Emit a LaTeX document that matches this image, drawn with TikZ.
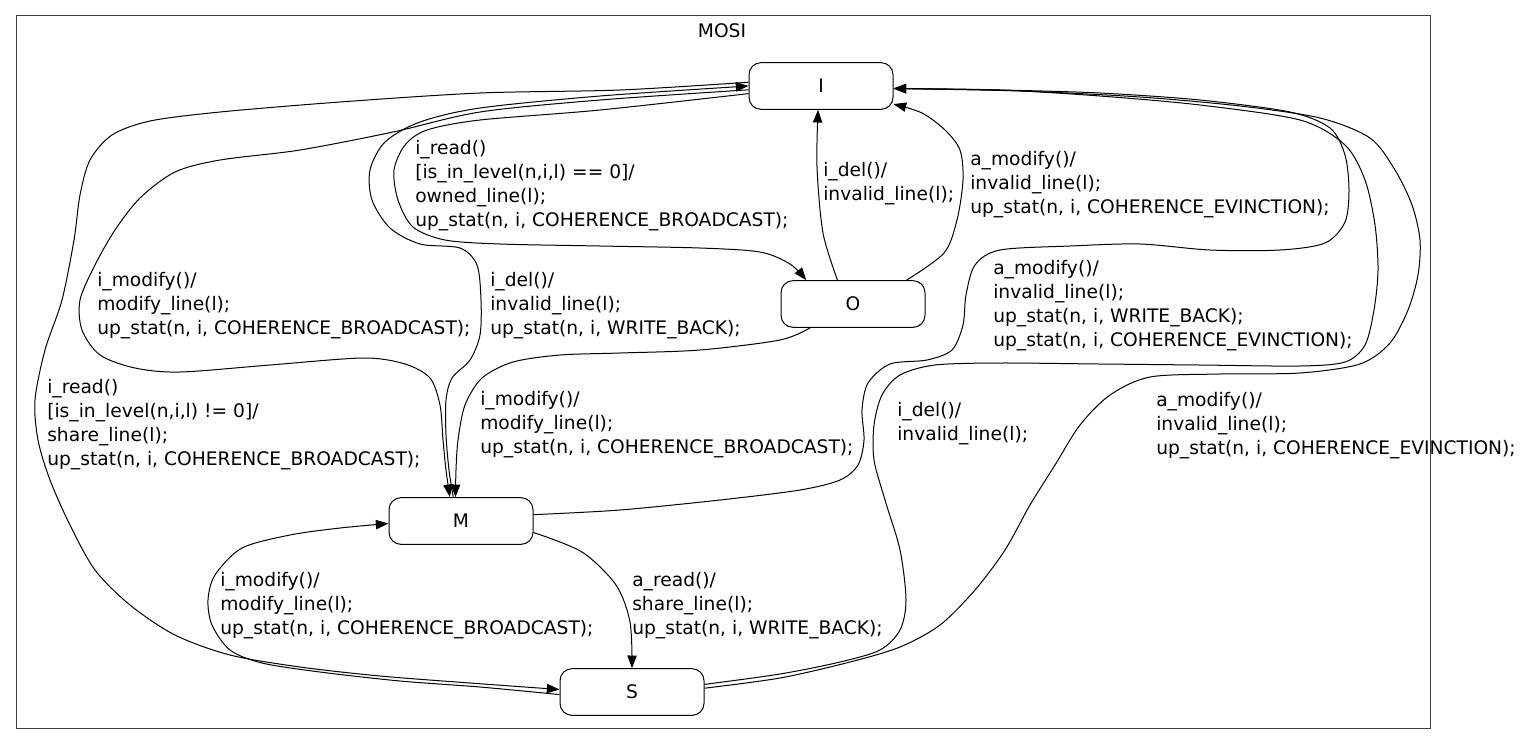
\documentclass[tikz,border=0pt]{standalone}
\usepackage{fontspec}
\setmainfont{DejaVu Sans}
\usetikzlibrary{arrows.meta}
\begin{document}
\begin{tikzpicture}[x=0.75pt,y=-0.75pt,
  state/.style={draw, line width=0.75pt, rounded corners=9pt, minimum width=108pt, minimum height=35pt, inner sep=0pt, font=\fontsize{14}{18}\selectfont},
  lbl/.style={anchor=north west, inner sep=0pt, align=left, font=\fontsize{14}{18}\selectfont},
  conn/.style={draw, line width=0.75pt, -{Triangle[length=9.5pt,width=7pt]}},
  cluster/.style={draw=black!75, line width=0.75pt},
  sm/.style={smooth, tension=0.5}]
\fill[white] (0,0) rectangle (1524,744);
\useasboundingbox (0,0) rectangle (1524,744);
\draw[cluster] (16,15) rectangle (1430,728);
\node[font=\fontsize{14}{18}\selectfont, inner sep=0pt] (title) at (722,31) {MOSI};

\node[state] (I) at (821,86) {I};
\node[state] (O) at (853,304) {O};
\node[state] (M) at (461,521) {M};
\node[state] (S) at (632,692) {S};

% I -> S  (i_read != 0)
\draw[conn] plot[sm] coordinates {(I.177) (620,90) (480,93) (340,102) (220,112) (150,121) (112,135) (90,160) (80,195) (74,240) (62,300) (45,350) (35,400) (38,440) (50,480) (70,525) (95,570) (130,605) (175,635) (230,655) (300,667) (380,676) (470,683) (S.178)};
% I -> M  (i_modify)
\draw[conn] plot[sm] coordinates {(I.183) (600,100) (480,112) (393,132) (300,150) (220,160) (175,172) (140,198) (115,230) (95,265) (80,300) (82,330) (100,355) (135,368) (180,372) (270,365) (363,358) (405,364) (430,378) (440,405) (443,440) (446,470) (M.115)};
% I -> O  (i_read == 0)
\draw[conn] plot[sm] coordinates {(I.186) (600,110) (480,120) (427,130) (405,145) (394,170) (398,200) (413,227) (445,240) (500,244) (600,246) (700,248) (760,252) (790,264) (O.153)};
% M -> I  (i_del)
\draw[conn] plot[sm] coordinates {(M.108) (449,470) (446,435) (446,400) (452,378) (470,360) (480,335) (481,300) (477,265) (460,248) (420,244) (390,228) (372,200) (370,170) (385,142) (420,122) (480,108) (600,96) (I.180)};
% O -> M  (i_modify)
\draw[conn] plot[sm] coordinates {(O.209) (780,340) (700,350) (620,353) (560,355) (513,362) (482,378) (465,405) (458,440) (456,470) (M.103)};
% O -> I  (i_del)
\draw[conn] plot[sm] coordinates {(O.123) (823,233) (817,167) (I.263)};
% O -> I  (a_modify)
\draw[conn] plot[sm] coordinates {(O.24) (944,253) (957,220) (963,180) (960,150) (945,130) (922,113) (I.346)};
% S -> M  (i_modify)
\draw[conn] plot[sm] coordinates {(S.182) (480,687) (400,681) (320,672) (262,663) (230,650) (212,625) (208,600) (215,575) (242,548) (290,535) (340,528) (M.182)};
% M -> S  (a_read)
\draw[conn] plot[sm] coordinates {(M.351) (582,552) (616,585) (630,622) (S.north)};
% M -> I  (a_modify, write back)
\draw[conn] plot[sm] coordinates {(M.5) (620,510) (720,500) (800,490) (840,480) (858,465) (864,440) (862,410) (868,383) (890,364) (927,360) (952,350) (963,325) (966,295) (975,265) (1000,250) (1070,246) (1140,244) (1210,250) (1280,250) (1325,243) (1345,222) (1349,190) (1345,155) (1330,128) (1290,112) (1200,100) (1100,93) (1000,90) (I.358)};
% S -> I  (i_del)
\draw[conn] plot[sm] coordinates {(S.6) (780,674) (840,662) (880,650) (900,630) (906,600) (900,550) (885,500) (874,460) (874,425) (882,395) (900,375) (935,365) (1000,363) (1100,364) (1200,365) (1300,366) (1345,362) (1365,345) (1374,310) (1378,270) (1375,225) (1365,180) (1345,145) (1300,120) (1200,105) (1100,96) (1000,90) (I.358)};
% S -> I  (a_modify)
\draw[conn] plot[sm] coordinates {(S.3) (780,678) (850,662) (900,647) (940,625) (975,590) (1005,550) (1030,505) (1055,465) (1080,425) (1110,395) (1150,377) (1220,374) (1300,373) (1360,364) (1390,343) (1408,310) (1418,275) (1420,240) (1412,205) (1395,170) (1370,138) (1320,118) (1240,106) (1140,97) (1020,91) (I.358)};

% labels
\node[lbl] (l1) at (415,140) {i\_read()\\ {[is\_in\_level(n,i,l) == 0]/}\\owned\_line(l);\\up\_stat(n, i, COHERENCE\_BROADCAST);};
\node[lbl] (l2) at (823,162) {i\_del()/\\invalid\_line(l);};
\node[lbl] (l3) at (970,151) {a\_modify()/\\invalid\_line(l);\\up\_stat(n, i, COHERENCE\_EVINCTION);};
\node[lbl] (l4) at (97,272) {i\_modify()/\\modify\_line(l);\\up\_stat(n, i, COHERENCE\_BROADCAST);};
\node[lbl] (l5) at (490,272) {i\_del()/\\invalid\_line(l);\\up\_stat(n, i, WRITE\_BACK);};
\node[lbl] (l6) at (993,260) {a\_modify()/\\invalid\_line(l);\\up\_stat(n, i, WRITE\_BACK);\\up\_stat(n, i, COHERENCE\_EVINCTION);};
\node[lbl] (l7) at (47,379) {i\_read()\\ {[is\_in\_level(n,i,l) != 0]/}\\share\_line(l);\\up\_stat(n, i, COHERENCE\_BROADCAST);};
\node[lbl] (l8) at (480,391) {i\_modify()/\\modify\_line(l);\\up\_stat(n, i, COHERENCE\_BROADCAST);};
\node[lbl] (l9) at (897,402) {i\_del()/\\invalid\_line(l);};
\node[lbl] (l10) at (1156,392) {a\_modify()/\\invalid\_line(l);\\up\_stat(n, i, COHERENCE\_EVINCTION);};
\node[lbl] (l11) at (220,572) {i\_modify()/\\modify\_line(l);\\up\_stat(n, i, COHERENCE\_BROADCAST);};
\node[lbl] (l12) at (632,572) {a\_read()/\\share\_line(l);\\up\_stat(n, i, WRITE\_BACK);};
\end{tikzpicture}
\end{document}
